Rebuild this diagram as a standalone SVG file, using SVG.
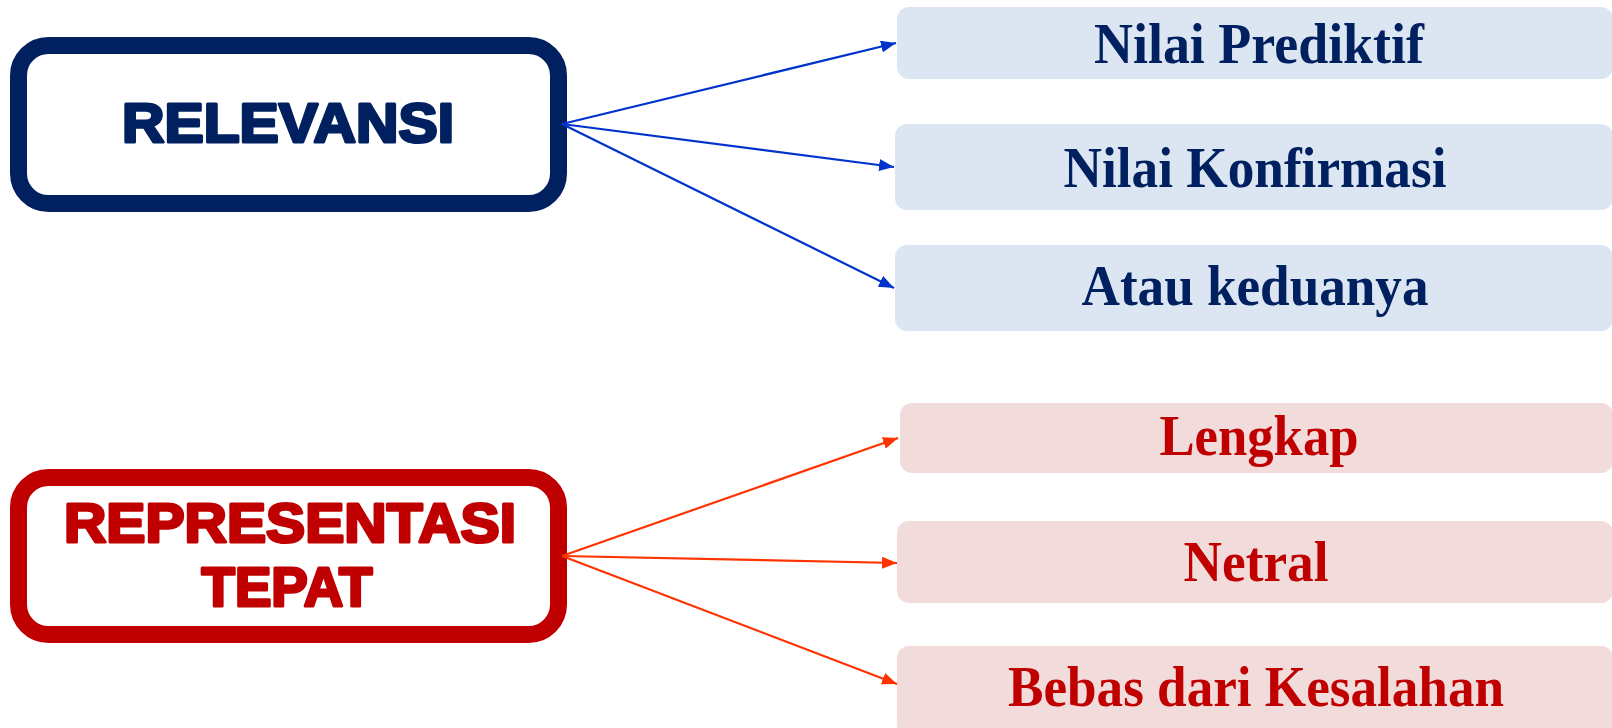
<svg xmlns="http://www.w3.org/2000/svg" width="1612" height="728" viewBox="0 0 1612 728">
<style>
.main{font-family:"Liberation Sans",Arial,sans-serif;font-weight:bold;font-size:55px;text-anchor:middle;stroke-width:3;stroke-linejoin:round}
.sub{font-family:"Liberation Serif","Times New Roman",serif;font-weight:bold;font-size:57px;text-anchor:middle}
.blue-t{fill:#002060}
.red-t{fill:#C00000}
.bbox{fill:#DCE6F2}
.rbox{fill:#F2DCDB}
.ab{stroke:#0033CC;stroke-width:2.2;fill:none}
.ar{stroke:#FF3300;stroke-width:2.2;fill:none}
</style>
<defs>
<marker id="mb" markerUnits="userSpaceOnUse" markerWidth="16" markerHeight="12" refX="15" refY="6" orient="auto"><path d="M0,0 L15,6 L0,12 z" fill="#0033CC"/></marker>
<marker id="mr" markerUnits="userSpaceOnUse" markerWidth="16" markerHeight="12" refX="15" refY="6" orient="auto"><path d="M0,0 L15,6 L0,12 z" fill="#FF3300"/></marker>
</defs>
<rect width="1612" height="728" fill="#fff"/>
<g id="relevansi">
<rect x="18.5" y="45.5" width="540" height="158" rx="30" fill="#fff" stroke="#002060" stroke-width="17"/>
<text class="main" x="288" y="142" fill="#002060" stroke="#002060" textLength="332" lengthAdjust="spacingAndGlyphs">RELEVANSI</text>
</g>
<g id="representasi">
<rect x="18.5" y="477.5" width="540" height="157" rx="30" fill="#fff" stroke="#C00000" stroke-width="17"/>
<text class="main" x="290" y="542" fill="#C00000" stroke="#C00000" textLength="452" lengthAdjust="spacingAndGlyphs">REPRESENTASI</text>
<text class="main" x="287" y="606" fill="#C00000" stroke="#C00000" textLength="171" lengthAdjust="spacingAndGlyphs">TEPAT</text>
</g>
<g id="nilai-prediktif">
<rect class="bbox" x="897" y="7" width="716" height="72" rx="12"/>
<text class="sub blue-t" x="1259" y="63" textLength="330" lengthAdjust="spacingAndGlyphs">Nilai Prediktif</text>
</g>
<g id="nilai-konfirmasi">
<rect class="bbox" x="895" y="124" width="718" height="86" rx="12"/>
<text class="sub blue-t" x="1255" y="187" textLength="383" lengthAdjust="spacingAndGlyphs">Nilai Konfirmasi</text>
</g>
<g id="atau-keduanya">
<rect class="bbox" x="895" y="245" width="718" height="86" rx="12"/>
<text class="sub blue-t" x="1255" y="305" textLength="347" lengthAdjust="spacingAndGlyphs">Atau keduanya</text>
</g>
<g id="lengkap">
<rect class="rbox" x="900" y="403" width="713" height="70" rx="12"/>
<text class="sub red-t" x="1259" y="455" textLength="199" lengthAdjust="spacingAndGlyphs">Lengkap</text>
</g>
<g id="netral">
<rect class="rbox" x="897" y="521" width="716" height="82" rx="12"/>
<text class="sub red-t" x="1256" y="581" textLength="145" lengthAdjust="spacingAndGlyphs">Netral</text>
</g>
<g id="bebas">
<rect class="rbox" x="897" y="646" width="716" height="90" rx="12"/>
<text class="sub red-t" x="1256" y="706" textLength="496" lengthAdjust="spacingAndGlyphs">Bebas dari Kesalahan</text>
</g>
<g id="connectors">
<line class="ab" x1="562" y1="124" x2="896" y2="43" marker-end="url(#mb)"/>
<line class="ab" x1="562" y1="124" x2="894" y2="167" marker-end="url(#mb)"/>
<line class="ab" x1="562" y1="124" x2="894" y2="288" marker-end="url(#mb)"/>
<line class="ar" x1="562" y1="556" x2="898" y2="438" marker-end="url(#mr)"/>
<line class="ar" x1="562" y1="556" x2="897" y2="563" marker-end="url(#mr)"/>
<line class="ar" x1="562" y1="556" x2="897" y2="684" marker-end="url(#mr)"/>
</g>
</svg>
